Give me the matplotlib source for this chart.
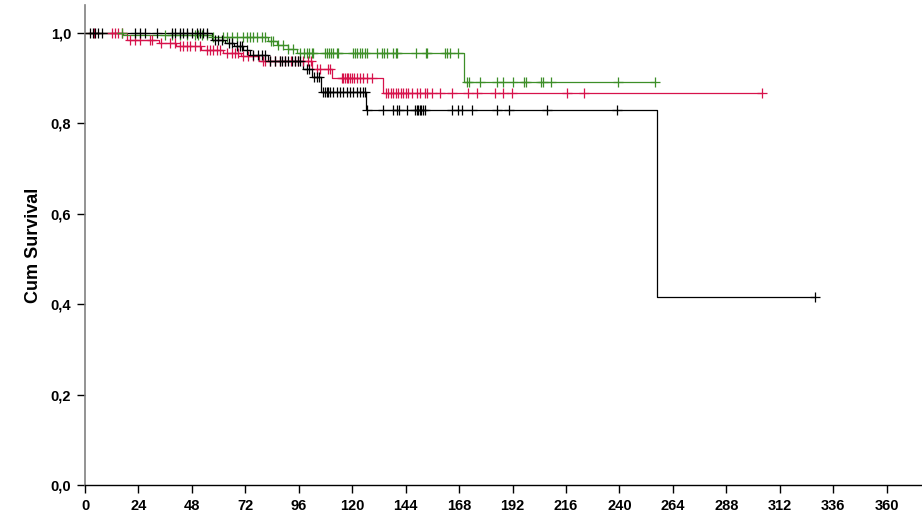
import numpy as np
import matplotlib.pyplot as plt

plt.rcParams['font.family'] = ['Liberation Sans', 'DejaVu Sans']

# Kaplan-Meier step points (time, survival after the event) and censored times per group
green_times = [0, 17, 57, 82, 86, 91, 95, 170]
green_surv = [1.0, 0.996, 0.990, 0.981, 0.972, 0.963, 0.955, 0.891]
green_end = 256
green_censored = [16.6, 36, 39, 42.6, 45.8, 49.4, 50.7, 52.5, 54.7, 57.5, 62, 63.7, 66, 68.2,
                  71, 72.7, 74, 75.4, 77.2, 79.4, 81, 83.5, 84.4, 86.6, 89, 91.1, 93.4, 96.5,
                  98.3, 99.6, 100.5, 101.9, 102.3, 107.7, 108.6, 109.5, 110.4, 111.3, 113.1,
                  113.6, 120.3, 121.2, 122.1, 123.4, 124.3, 125.7, 126.6, 131, 133.3, 134.2,
                  135.5, 138.2, 139.6, 140, 148.6, 153, 153.5, 161.6, 162.5, 163.8, 167.4,
                  171.4, 172.4, 177.3, 184.9, 187.5, 192, 197, 198, 204.7, 205.5, 209.2,
                  239.2, 256]

red_times = [0, 19, 33, 41, 52, 62, 70, 78, 102, 111, 134]
red_surv = [1.0, 0.985, 0.977, 0.970, 0.962, 0.955, 0.948, 0.938, 0.919, 0.899, 0.867]
red_end = 303.9
red_censored = [4, 12.1, 13.5, 14.8, 16.6, 20.2, 22.4, 24.7, 29.2, 30, 34, 38.2, 40.4, 42.6,
                44, 45.8, 47.1, 49.4, 51.6, 54.8, 56.1, 57.5, 59.2, 60.6, 63.7, 66, 67.3,
                68.7, 70.9, 73, 75.4, 80, 80.8, 83, 85.3, 87.5, 89.8, 92.5, 94.3, 95.6, 97.8,
                100.1, 101.5, 104, 105.5, 109, 110, 115.3, 115.8, 116.7, 117.6, 118.3, 119,
                119.8, 120.7, 122, 123.4, 124.8, 126.6, 128.8, 135.1, 136, 137.3, 138.2,
                139.6, 140.5, 141.8, 142.7, 144.1, 145, 146.8, 149, 150.4, 152.6, 153.5,
                155.7, 159.3, 164.7, 171.9, 176, 184, 187.6, 191.7, 216.3, 224, 303.9]

black_times = [0, 57, 63, 67, 71, 74, 82, 98, 102, 106, 126, 257]
black_surv = [1.0, 0.985, 0.978, 0.970, 0.962, 0.951, 0.938, 0.920, 0.903, 0.868, 0.830, 0.415]
black_end = 327.6
black_censored = [2.2, 3.6, 4.5, 5.8, 7.6, 22.4, 24.7, 26.9, 32.3, 39, 40.4, 42.6, 44, 45.8,
                  48, 50.3, 51.6, 53, 54.8, 58.3, 59.7, 61.5, 64.5, 65.8, 68.2, 69.5, 70.5,
                  72.7, 75.4, 77.6, 79.4, 80.8, 83, 85.3, 87.5, 88.4, 89.8, 91.1, 92.9, 94.3,
                  95.6, 96.5, 99.5, 100.8, 102.8, 104.1, 105, 106.8, 107.7, 108.6, 109.1, 110,
                  111.3, 113.1, 114.5, 115.8, 117.6, 118.9, 120.3, 122.1, 123.4, 124.8, 125.7,
                  126.6, 133.8, 138.2, 140, 141, 144.5, 148, 149, 149.5, 150.4, 151, 151.7,
                  152.6, 164.7, 167.4, 169.2, 173.7, 184.9, 190.3, 207.4, 238.8, 327.6]

x_ticks = list(range(0, 361, 24))
y_ticks = [0.0, 0.2, 0.4, 0.6, 0.8, 1.0]


def draw_km(ax, times, surv, end, censored, color):
    xs = list(times) + [end]
    ys = list(surv) + [surv[-1]]
    ax.step(xs, ys, where='post', color=color, lw=0.9, zorder=2)
    idx = np.searchsorted(times, censored, side='right') - 1
    cy = np.asarray(surv)[idx]
    ax.plot(censored, cy, ls='none', marker='+', ms=7.5, mew=0.9, color=color, zorder=3)


fig = plt.figure(figsize=(9.22, 5.16), dpi=100)
ax = fig.add_axes([0.0922, 0.060, 0.907, 0.93])

draw_km(ax, red_times, red_surv, red_end, red_censored, '#d7124b')
draw_km(ax, green_times, green_surv, green_end, green_censored, '#3d8f28')
draw_km(ax, black_times, black_surv, black_end, black_censored, '#000000')

ax.set_xlim(0, 375.5)
ax.set_ylim(0, 1.061)
ax.set_xticks(x_ticks)
ax.set_yticks(y_ticks)
ax.set_yticklabels([f"{v:.1f}".replace('.', ',') for v in y_ticks])
ax.tick_params(axis='both', direction='out', length=6, width=1, labelsize=10.5, pad=4)
for lab in ax.get_xticklabels() + ax.get_yticklabels():
    lab.set_fontweight('bold')

ax.spines['top'].set_visible(False)
ax.spines['right'].set_visible(False)
ax.spines['left'].set_color('#808080')
ax.spines['left'].set_linewidth(1.2)
ax.spines['bottom'].set_linewidth(1.0)

ax.set_ylabel('Cum Survival', fontsize=13, fontweight='bold', labelpad=6)

fig.savefig('out.png', dpi=100)
